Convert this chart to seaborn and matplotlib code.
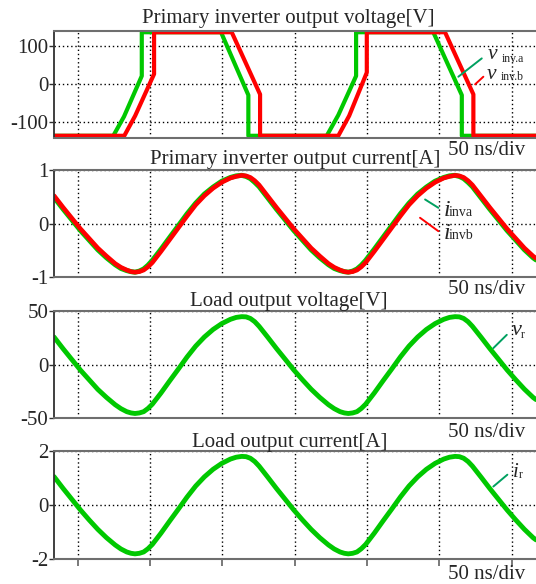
import matplotlib
matplotlib.use("Agg")
import matplotlib.pyplot as plt
import seaborn as sns

sns.set_style("ticks")
plt.rcParams['font.family'] = ['Liberation Serif', 'DejaVu Serif']

# ---- inverter output voltages (breakpoints, ns / V) ----
t_va = [-16.4, 24.6, 32.0, 44.3, 44.3, 99.1, 118.0, 118.0,
        172.2, 180.2, 192.5, 192.5, 245.9, 265.6, 265.6, 316.9]
v_inv_a = [-135, -135, -85, 21, 135, 135, -29, -135,
           -135, -81, 21, 135, 135, -29, -135, -135]
t_vb = [-16.4, 32.2, 39.7, 52.8, 52.8, 106.5, 126.1, 126.1,
        180.2, 187.7, 199.9, 199.9, 254.0, 273.6, 273.6, 316.9]
v_inv_b = [-135, -135, -83, 26, 135, 135, -27, -135,
           -135, -83, 30, 135, 135, -27, -135, -135]

# ---- sampled waveforms (ns) ----
t_ns = [-16.4, -10.1, -4.1, 1.9, 7.9, 13.9, 19.9, 25.9, 29.9, 33.9, 36.9, 39.6,
        42.6, 45.6, 48.6, 51.6, 57.6, 63.6, 69.6, 75.6, 81.6, 87.6, 93.6, 99.6,
        105.6, 109.6, 113.4,
        116.4, 119.4, 122.4, 125.4, 131.4, 137.4, 143.4, 149.4, 155.4, 161.4,
        167.4, 173.4, 177.4, 181.4, 184.4, 187.1,
        190.1, 193.1, 196.1, 199.1, 205.1, 211.1, 217.1, 223.1, 229.1, 235.1,
        241.1, 247.1, 253.1, 257.1, 260.9,
        263.9, 266.9, 269.9, 272.9, 278.9, 284.9, 290.9, 296.9, 302.9, 308.9,
        314.9, 316.9]
i_inva = [0.49, 0.27, 0.07, -0.13, -0.31, -0.49, -0.64, -0.77, -0.84, -0.88, -0.90, -0.91,
          -0.89, -0.85, -0.78, -0.69, -0.48, -0.26, -0.04, 0.18, 0.38, 0.55, 0.68, 0.79,
          0.86, 0.89, 0.90,
          0.88, 0.84, 0.77, 0.69, 0.48, 0.27, 0.07, -0.13, -0.31, -0.49,
          -0.64, -0.77, -0.84, -0.88, -0.90, -0.91,
          -0.89, -0.85, -0.78, -0.69, -0.48, -0.26, -0.04, 0.18, 0.38, 0.55,
          0.68, 0.79, 0.86, 0.89, 0.90,
          0.88, 0.84, 0.77, 0.69, 0.48, 0.27, 0.07, -0.13, -0.31, -0.49,
          -0.64, -0.68]
i_invb = [0.52, 0.30, 0.10, -0.10, -0.28, -0.46, -0.61, -0.75, -0.82, -0.87, -0.90, -0.91,
          -0.90, -0.87, -0.81, -0.73, -0.52, -0.30, -0.08, 0.14, 0.35, 0.52, 0.66, 0.77,
          0.85, 0.88, 0.90,
          0.89, 0.86, 0.80, 0.72, 0.51, 0.30, 0.10, -0.10, -0.28, -0.46,
          -0.61, -0.75, -0.82, -0.87, -0.90, -0.91,
          -0.90, -0.87, -0.81, -0.73, -0.52, -0.30, -0.08, 0.14, 0.35, 0.52,
          0.66, 0.77, 0.85, 0.88, 0.90,
          0.89, 0.86, 0.80, 0.72, 0.51, 0.30, 0.10, -0.10, -0.28, -0.46,
          -0.61, -0.65]
v_r = [26, 15, 5, -5, -14, -23, -30.5, -37.3, -41, -43.8, -45, -45.5,
       -45, -43.8, -40.8, -36.8, -26.3, -15, -4, 7.3, 17.5, 26, 33, 38.5,
       42.5, 44.3, 45,
       44.8, 43.3, 40.3, 36, 25.8, 15.3, 5.3, -4.8, -14, -22.8,
       -30.5, -37.3, -41, -43.8, -45, -45.5,
       -45, -43.8, -40.8, -36.8, -26.3, -15, -4, 7.3, 17.5, 26,
       33, 38.5, 42.5, 44.3, 45,
       44.8, 43.3, 40.3, 36, 25.8, 15.3, 5.3, -4.8, -14, -22.8,
       -30.5, -32.5]
i_r = [1.05, 0.61, 0.21, -0.19, -0.56, -0.91, -1.22, -1.49, -1.64, -1.75, -1.80, -1.82,
       -1.80, -1.75, -1.63, -1.47, -1.05, -0.60, -0.16, 0.29, 0.70, 1.04, 1.32, 1.54,
       1.70, 1.77, 1.80,
       1.79, 1.73, 1.61, 1.44, 1.03, 0.61, 0.21, -0.19, -0.56, -0.91,
       -1.22, -1.49, -1.64, -1.75, -1.80, -1.82,
       -1.80, -1.75, -1.63, -1.47, -1.05, -0.60, -0.16, 0.29, 0.70, 1.04,
       1.32, 1.54, 1.70, 1.77, 1.80,
       1.79, 1.73, 1.61, 1.44, 1.03, 0.61, 0.21, -0.19, -0.56, -0.91,
       -1.22, -1.30]

x_grid = [0, 50, 100, 150, 200, 250, 300]
titles = ["Primary inverter output voltage[V]",
          "Primary inverter output current[A]",
          "Load output voltage[V]",
          "Load output current[A]"]
y_ticks = [[-100, 0, 100], [-1, 0, 1], [-50, 0, 50], [-2, 0, 2]]
y_tick_labels = [["-100", "0", "100"], ["-1", "0", "1"],
                 ["-50", "0", "50"], ["-2", "0", "2"]]
y_limits = [(-140, 139), (-1, 1), (-50, 50), (-2, 2)]

GREEN = '#00c800'
RED = '#ff0000'
LEAD = '#00a060'
SPINE = '#6e6e6e'
FS = 15

fig = plt.figure(figsize=(5.36, 5.84), dpi=100)


def rect(top_px, bot_px):
    return [54 / 536, 1 - bot_px / 584, 482 / 536, (bot_px - top_px) / 584]


panel_px = [(30.7, 137.7), (170, 277), (311.3, 418.3), (451, 558.7)]
title_x = [0.487, 0.500, 0.488, 0.490]
title_gap = [7.3, 6.0, 5.3, 3.7]
div_gap = [17.3, 17.0, 19.0, 20.6]
axes = [fig.add_axes(rect(*p)) for p in panel_px]

# waveforms
sns.lineplot(x=t_va, y=v_inv_a, ax=axes[0], color=GREEN, linewidth=3.0,
             estimator=None, sort=False, legend=False)
sns.lineplot(x=t_vb, y=v_inv_b, ax=axes[0], color=RED, linewidth=3.0,
             estimator=None, sort=False, legend=False)
sns.lineplot(x=t_ns, y=i_inva, ax=axes[1], color=GREEN, linewidth=3.6,
             estimator=None, sort=False, legend=False)
sns.lineplot(x=t_ns, y=i_invb, ax=axes[1], color=RED, linewidth=3.3,
             estimator=None, sort=False, legend=False)
sns.lineplot(x=t_ns, y=v_r, ax=axes[2], color=GREEN, linewidth=3.5,
             estimator=None, sort=False, legend=False)
sns.lineplot(x=t_ns, y=i_r, ax=axes[3], color=GREEN, linewidth=3.5,
             estimator=None, sort=False, legend=False)

for k, ax in enumerate(axes):
    h = panel_px[k][1] - panel_px[k][0]
    ax.set_xlim(-16.4, 316.9)
    ax.set_ylim(*y_limits[k])
    ax.set_xticks(x_grid)
    ax.set_yticks(y_ticks[k])
    ax.set_yticklabels(y_tick_labels[k])
    ax.set_xlabel("")
    ax.set_ylabel("")
    ax.grid(True, color='black', linestyle=(0, (1, 2)), linewidth=1.0)
    ax.set_axisbelow(True)
    ax.spines['right'].set_visible(False)
    for s in ('top', 'bottom'):
        ax.spines[s].set_color(SPINE)
        ax.spines[s].set_linewidth(1.5)
    ax.spines['left'].set_color('#303030')
    ax.spines['left'].set_linewidth(1.3)
    ax.tick_params(axis='y', direction='out', length=3.5, width=1.0,
                   pad=0.5, labelsize=FS, color='#303030')
    ax.tick_params(axis='x', direction='out', labelbottom=False,
                   length=5 if k == 3 else 0, width=1.3, color=SPINE)
    ax.text(title_x[k], 1 + title_gap[k] / h, titles[k], transform=ax.transAxes,
            ha='center', va='baseline', fontsize=FS)
    ax.text(0.898, -div_gap[k] / h, "50 ns/div", transform=ax.transAxes,
            ha='center', va='baseline', fontsize=FS)


def leader(ax, p0, p1, color):
    ax.annotate('', xy=p0, xytext=p1,
                arrowprops=dict(arrowstyle='-', color=color, lw=1.4,
                                shrinkA=0, shrinkB=0))


def label(ax, main, sub, pm, ps, size_main, size_sub):
    ax.text(pm[0], pm[1], main, fontstyle='italic', fontsize=size_main,
            ha='left', va='baseline')
    ax.text(ps[0], ps[1], sub, fontsize=size_sub, ha='left', va='baseline')


# panel 1 labels
leader(axes[0], (263.2, 19), (279.4, 66.8), LEAD)
leader(axes[0], (274.8, -0.8), (280.5, 19), RED)
label(axes[0], "v", "inv.a", (283.6, 64.5), (293.0, 56.5), 15.5, 8.5)
label(axes[0], "v", "inv.b", (283.1, 12.0), (292.5, 10.5), 15.5, 8.5)

# panel 2 labels
leader(axes[1], (240.2, 0.449), (249.4, 0.293), LEAD)
leader(axes[1], (236.7, 0.107), (249.4, -0.144), RED)
label(axes[1], "i", "inva", (252.9, 0.136), (256.8, 0.136), 17, 10)
label(axes[1], "i", "invb", (252.9, -0.299), (256.8, -0.299), 17, 10)

# panel 3 / 4 labels
leader(axes[2], (287.4, 15.6), (296.7, 28.0), LEAD)
label(axes[2], "v", "r", (300.2, 28.0), (306.3, 24.9), 16, 8.5)
leader(axes[3], (287.4, 0.68), (297.1, 1.12), LEAD)
label(axes[3], "i", "r", (301.1, 1.05), (304.9, 0.99), 15, 8.5)

fig.savefig("out.png", dpi=100)
